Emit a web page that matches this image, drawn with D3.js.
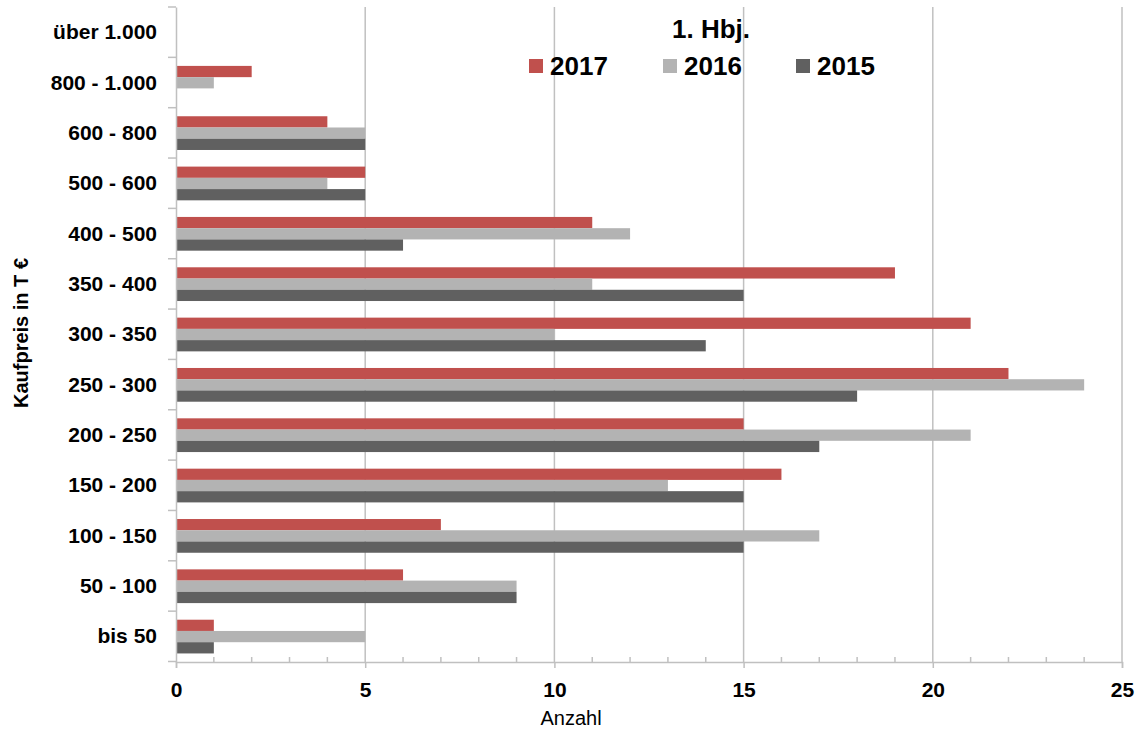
<!DOCTYPE html>
<html>
<head>
<meta charset="utf-8">
<script src="https://cdn.jsdelivr.net/npm/d3@7"></script>
<style>
  body { margin: 0; background: #fff; }
  text { font-family: "Liberation Sans", Arial, sans-serif; }
</style>
</head>
<body>
<div id="chart"></div>
<script>
const categories = ["über 1.000", "800 - 1.000", "600 - 800", "500 - 600", "400 - 500", "350 - 400",
    "300 - 350", "250 - 300", "200 - 250", "150 - 200", "100 - 150", "50 - 100", "bis 50"];
const years = ["2017", "2016", "2015"];
const values2017 = [0, 2, 4, 5, 11, 19, 21, 22, 15, 16, 7, 6, 1];
const values2016 = [0, 1, 5, 4, 12, 11, 10, 24, 21, 13, 17, 9, 5];
const values2015 = [0, 0, 5, 5, 6, 15, 14, 18, 17, 15, 15, 9, 1];
const xTicks = [0, 5, 10, 15, 20, 25];
const colors = {"2017": "#c0504d", "2016": "#b3b3b3", "2015": "#606060"};

const width = 1147, height = 731;
const margin = {top: 7, right: 25, bottom: 69, left: 176};

const svg = d3.select("#chart").append("svg")
    .attr("width", width)
    .attr("height", height);

const x = d3.scaleLinear()
    .domain([0, 25])
    .range([margin.left, width - margin.right]);

const y = d3.scaleBand()
    .domain(categories)
    .range([margin.top, height - margin.bottom])
    .paddingInner(0.33)
    .paddingOuter(0.17);

const ySub = d3.scaleBand()
    .domain(years)
    .range([0, y.bandwidth()]);

const series = {"2017": values2017, "2016": values2016, "2015": values2015};
const rows = categories.map((c, i) => ({
    cat: c,
    vals: years.map(yr => ({year: yr, value: series[yr][i]}))
}));

// gridlines
svg.append("g")
    .selectAll("line")
    .data(xTicks.slice(1))
    .join("line")
    .attr("x1", d => x(d)).attr("x2", d => x(d))
    .attr("y1", margin.top).attr("y2", height - margin.bottom)
    .attr("stroke", "#c0c0c0")
    .attr("stroke-width", 1.5);

// bars
const groups = svg.append("g")
    .selectAll("g")
    .data(rows)
    .join("g")
    .attr("transform", d => `translate(0,${y(d.cat)})`);

groups.selectAll("rect")
    .data(d => d.vals.filter(v => v.value > 0))
    .join("rect")
    .attr("x", x(0))
    .attr("y", d => ySub(d.year))
    .attr("width", d => x(d.value) - x(0))
    .attr("height", ySub.bandwidth())
    .attr("fill", d => colors[d.year]);

// x axis
const xAxis = svg.append("g")
    .attr("transform", `translate(0,${height - margin.bottom})`)
    .call(d3.axisBottom(x).tickValues(xTicks).tickSize(6).tickPadding(14));
xAxis.select(".domain").attr("stroke", "#c0c0c0").attr("stroke-width", 1.5);
xAxis.selectAll(".tick line").attr("stroke", "#c0c0c0").attr("stroke-width", 1.5);
xAxis.selectAll(".tick text")
    .attr("font-size", 21)
    .attr("font-weight", "bold")
    .attr("fill", "#000");

// minor ticks on x axis
svg.append("g")
    .selectAll("line")
    .data(d3.range(1, 25).filter(d => d % 5 !== 0))
    .join("line")
    .attr("x1", d => x(d)).attr("x2", d => x(d))
    .attr("y1", height - margin.bottom).attr("y2", height - margin.bottom - 5)
    .attr("stroke", "#c0c0c0")
    .attr("stroke-width", 1.5);

// y axis
const yAxis = svg.append("g")
    .attr("transform", `translate(${margin.left},0)`)
    .call(d3.axisLeft(y).tickSize(0).tickPadding(19));
yAxis.select(".domain").attr("stroke", "#c0c0c0").attr("stroke-width", 1.5);
yAxis.selectAll(".tick text")
    .attr("font-size", 21)
    .attr("font-weight", "bold")
    .attr("fill", "#000");

// y axis ticks at category boundaries
const step = y.step();
svg.append("g")
    .selectAll("line")
    .data(d3.range(categories.length + 1))
    .join("line")
    .attr("x1", margin.left - 8).attr("x2", margin.left)
    .attr("y1", i => margin.top + i * step)
    .attr("y2", i => margin.top + i * step)
    .attr("stroke", "#c0c0c0")
    .attr("stroke-width", 1.5);

// axis titles
svg.append("text")
    .attr("x", 571)
    .attr("y", 725)
    .attr("text-anchor", "middle")
    .attr("font-size", 20)
    .text("Anzahl");

svg.append("text")
    .attr("transform", "rotate(-90)")
    .attr("x", -333)
    .attr("y", 28)
    .attr("text-anchor", "middle")
    .attr("font-size", 20)
    .attr("font-weight", "bold")
    .text("Kaufpreis in T €");

// legend
svg.append("text")
    .attr("x", 711)
    .attr("y", 38)
    .attr("text-anchor", "middle")
    .attr("font-size", 26)
    .attr("font-weight", "bold")
    .text("1. Hbj.");

const legendX = [529, 663, 796];
const legend = svg.append("g")
    .selectAll("g")
    .data(years)
    .join("g")
    .attr("transform", (d, i) => `translate(${legendX[i]},59)`);
legend.append("rect")
    .attr("width", 14).attr("height", 14)
    .attr("fill", d => colors[d]);
legend.append("text")
    .attr("x", 21)
    .attr("y", 16)
    .attr("font-size", 26)
    .attr("font-weight", "bold")
    .text(d => d);
</script>
</body>
</html>
